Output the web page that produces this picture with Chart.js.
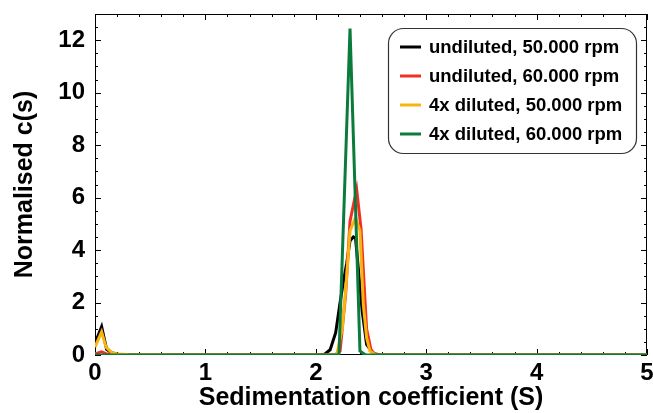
<!DOCTYPE html>
<html>
<head>
<meta charset="utf-8">
<script src="https://cdn.jsdelivr.net/npm/chart.js@4.4.1/dist/chart.umd.min.js"></script>
<style>
html, body { margin: 0; padding: 0; background: #fff; }
#wrap { width: 653px; height: 413px; }
</style>
</head>
<body>
<div id="wrap"><canvas id="chart" width="653" height="413"></canvas></div>
<script>
// c(s) distributions

const xTickValues = [0, 1, 2, 3, 4, 5];
const yTickValues = [0, 2, 4, 6, 8, 10, 12];

const seriesLabels = [
    'undiluted, 50.000 rpm',
    'undiluted, 60.000 rpm',
    '4x diluted, 50.000 rpm',
    '4x diluted, 60.000 rpm'
];
const seriesColors = ['#000000', '#ef3124', '#f8b50f', '#0b7b3b'];

const undil50S = [0, 0.06, 0.105, 0.15, 0.21, 0.35, 0.5, 2.02, 2.08, 2.13, 2.18, 2.22, 2.25, 2.28, 2.31, 2.34, 2.36, 2.39, 2.42, 2.46, 2.52, 2.6, 5];
const undil50C = [0.45, 1.08, 0.22, 0.09, 0.03, 0.02, 0, 0, 0.03, 0.2, 0.85, 2.0, 2.8, 3.5, 4.35, 4.5, 4.45, 3.08, 1.68, 0.4, 0.05, 0, 0];

const undil60S = [0, 0.06, 0.1, 0.2, 2.1, 2.18, 2.22, 2.27, 2.31, 2.37, 2.41, 2.46, 2.5, 2.54, 5];
const undil60C = [0.05, 0.12, 0.05, 0, 0, 0.02, 0.15, 2.3, 5.1, 6.32, 4.8, 1.0, 0.2, 0, 0];

const dil50S = [0, 0.06, 0.1, 0.15, 0.2, 0.3, 0.5, 0.7, 2.1, 2.19, 2.24, 2.27, 2.31, 2.36, 2.40, 2.43, 2.46, 2.49, 2.54, 5];
const dil50C = [0.3, 0.88, 0.3, 0.1, 0.04, 0.02, 0.01, 0, 0, 0, 1.04, 2.44, 4.73, 5.24, 4.73, 1.95, 0.66, 0.15, 0, 0];

const dil60S = [0, 2.1, 2.21, 2.31, 2.4, 2.45, 5];
const dil60C = [0, 0, 0, 12.45, 0.15, 0, 0];

const FONT = "'Liberation Sans', Arial, Helvetica, sans-serif";

function toPoints(xs, ys) {
    return xs.map(function(v, i) { return { x: v, y: ys[i] }; });
}

function makeDataset(idx, xs, ys) {
    return {
        label: seriesLabels[idx],
        data: toPoints(xs, ys),
        borderColor: seriesColors[idx],
        backgroundColor: seriesColors[idx],
        borderWidth: 3,
        pointRadius: 0,
        tension: 0,
        fill: false,
        order: 4 - idx
    };
}

function noPad(s) {
    s.paddingTop = 0;
    s.paddingBottom = 0;
    s.paddingLeft = 0;
    s.paddingRight = 0;
}

// frame + inward ticks on all four sides
const frameTicks = {
    id: 'frameTicks',
    beforeDatasetsDraw(chart) {
        const { ctx, chartArea: a, scales } = chart;
        const x = scales.x, y = scales.y;
        ctx.save();
        ctx.strokeStyle = '#000';
        ctx.lineWidth = 1;
        ctx.strokeRect(a.left + 0.5, a.top + 0.5, a.right - a.left - 1, a.bottom - a.top - 1);
        ctx.beginPath();
        for (let k = 0; k <= 25; k++) {
            const v = k * 0.2;
            const px = Math.round(x.getPixelForValue(v)) + 0.5;
            const len = (k % 5 === 0) ? 6 : 3;
            ctx.moveTo(px, a.bottom); ctx.lineTo(px, a.bottom - len);
            ctx.moveTo(px, a.top); ctx.lineTo(px, a.top + len);
        }
        for (let k = 0; k <= 26; k++) {
            const v = k * 0.5;
            const py = Math.round(y.getPixelForValue(v)) + 0.5;
            const len = (k % 4 === 0) ? 6 : 3;
            ctx.moveTo(a.left, py); ctx.lineTo(a.left + len, py);
            ctx.moveTo(a.right, py); ctx.lineTo(a.right - len, py);
        }
        ctx.stroke();
        ctx.restore();
    }
};

// boxed legend in the top right corner
const boxLegend = {
    id: 'boxLegend',
    afterDraw(chart) {
        const ctx = chart.ctx;
        const bx = 388, by = 28, bw = 248, bh = 125, r = 15;
        ctx.save();
        ctx.fillStyle = '#fff';
        ctx.strokeStyle = '#333';
        ctx.lineWidth = 1.2;
        ctx.beginPath();
        ctx.roundRect(bx + 0.5, by + 0.5, bw, bh, r);
        ctx.fill();
        ctx.stroke();
        ctx.font = 'bold 18.5px ' + FONT;
        ctx.textBaseline = 'middle';
        ctx.fillStyle = '#000';
        chart.data.datasets.forEach(function(ds, i) {
            const cy = by + 19 + i * 29;
            ctx.strokeStyle = ds.borderColor;
            ctx.lineWidth = 3;
            ctx.beginPath();
            ctx.moveTo(400, cy); ctx.lineTo(421, cy);
            ctx.stroke();
            ctx.fillText(ds.label, 429, cy + 1);
        });
        ctx.restore();
    }
};

const ctx = document.getElementById('chart').getContext('2d');
new Chart(ctx, {
    type: 'line',
    data: {
        datasets: [
            makeDataset(0, undil50S, undil50C),
            makeDataset(1, undil60S, undil60C),
            makeDataset(2, dil50S, dil50C),
            makeDataset(3, dil60S, dil60C)
        ]
    },
    options: {
        responsive: false,
        animation: false,
        layout: { padding: { top: 14, right: 6, left: 0, bottom: 0 } },
        plugins: {
            legend: { display: false },
            tooltip: { enabled: false }
        },
        scales: {
            x: {
                type: 'linear',
                min: 0,
                max: 5,
                afterFit: function(s) { s.height = 58; noPad(s); },
                afterBuildTicks: function(s) { s.ticks = xTickValues.map(function(v) { return { value: v }; }); },
                grid: { display: false, drawTicks: false },
                border: { display: false },
                ticks: {
                    color: '#000',
                    padding: 4,
                    maxRotation: 0,
                    font: { family: FONT, size: 24, weight: 'bold' }
                },
                title: {
                    display: true,
                    text: 'Sedimentation coefficient (S)',
                    color: '#000',
                    padding: { top: 0, bottom: 0 },
                    font: { family: FONT, size: 25, weight: 'bold' }
                }
            },
            y: {
                type: 'linear',
                min: 0,
                max: 13,
                afterFit: function(s) { s.width = 95; noPad(s); },
                afterBuildTicks: function(s) { s.ticks = yTickValues.map(function(v) { return { value: v }; }); },
                grid: { display: false, drawTicks: false },
                border: { display: false },
                ticks: {
                    color: '#000',
                    padding: 10,
                    font: { family: FONT, size: 24, weight: 'bold' }
                },
                title: {
                    display: true,
                    text: 'Normalised c(s)',
                    color: '#000',
                    padding: { top: 10, bottom: 0 },
                    font: { family: FONT, size: 25, weight: 'bold' }
                }
            }
        }
    },
    plugins: [frameTicks, boxLegend]
});
</script>
</body>
</html>
